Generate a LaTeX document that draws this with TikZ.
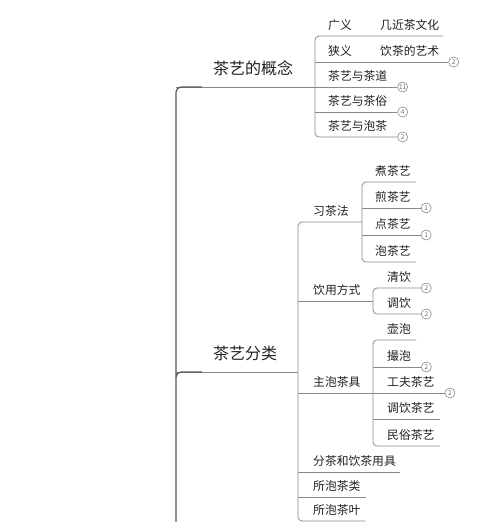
\documentclass[tikz,border=0pt]{standalone}
\usepackage{fontspec}
\setmainfont{Noto Sans CJK SC}
\usetikzlibrary{positioning}
\definecolor{mapink}{RGB}{34,34,34}
\definecolor{mapline}{RGB}{138,138,138}
\definecolor{maptrunk}{RGB}{88,88,88}
\begin{document}
\begin{tikzpicture}[x=1pt,y=-1pt,font=\fontsize{11.8}{14}\selectfont,
 topic/.style={anchor=south west,inner sep=0pt,text depth=12pt,text=mapink,
 font=\fontsize{16}{19}\selectfont},
 leaf/.style={anchor=south west,inner sep=0pt,text depth=6.5pt,text=mapink},
 badge/.style={circle,draw=mapline,line width=.6pt,fill=white,minimum size=10pt,
 inner sep=0pt,anchor=west,text=mapline!80!black,font=\fontsize{6.5}{7}\selectfont},
 ln/.style={draw=mapline,line width=.8pt,rounded corners=4pt},
 trunk/.style={draw=maptrunk,line width=1.2pt,rounded corners=5pt}]
\useasboundingbox[fill=white] (0,0) rectangle (500,522);
\coordinate (kc) at (315,0);
\coordinate (kf) at (298,0);
\coordinate (kx) at (362,0);
\coordinate (ky) at (373,0);
\coordinate (rt) at (176,87);
\coordinate (rm) at (176,372);
\coordinate (rb) at (176,522);

\node[topic] (gn) at (213,87) {茶艺的概念};
\node[topic] (fl) at (213,372) {茶艺分类};

% 茶艺的概念
\node[leaf] (gy) at (328,36) {广义};
\node[leaf,right=28pt of gy] (gyw) {几近茶文化};
\node[leaf] (xy) at (328,62) {狭义};
\node[leaf,right=28pt of xy] (xyw) {饮茶的艺术};
\node[leaf] (cdao) at (328,87) {茶艺与茶道};
\node[leaf] (csu) at (328,112) {茶艺与茶俗};
\node[leaf] (cpao) at (328,137) {茶艺与泡茶};
\node[badge] (b1) at ([xshift=9pt]xyw.south east) {2};
\node[badge] (b2) at ([xshift=10pt]cdao.south east) {11};
\node[badge] (b3) at ([xshift=10pt]csu.south east) {4};
\node[badge] (b4) at ([xshift=10pt]cpao.south east) {2};
\draw[ln] (rt) -- (cdao.south -| kc);
\draw[ln] ([xshift=4pt]gyw.south east) -- (gy.south -| kc) -- (cpao.south -| kc) -- (b4.west);
\draw[ln] (xy.south -| kc) -- (b1.west);
\draw[ln] (cdao.south -| kc) -- (b2.west);
\draw[ln] (csu.south -| kc) -- (b3.west);

% 茶艺分类
\node[leaf] (xc) at (313,222) {习茶法};
\node[leaf] (yf) at (313,301) {饮用方式};
\node[leaf] (zp) at (313,393) {主泡茶具};
\node[leaf] (fc) at (313,472) {分茶和饮茶用具};
\node[leaf] (sl) at (313,497) {所泡茶类};
\node[leaf] (sy) at (313,521) {所泡茶叶};
\draw[ln] (rm) -- (fl.south -| kf);
\draw[ln] (xc.south -| kx) -- (xc.south -| kf) -- (sy.south -| kf) -- ([xshift=5pt]sy.south east);
\draw[ln] (yf.south -| kf) -- (yf.south -| ky);
\draw[ln] (zp.south -| kf) -- (zp.south -| ky);
\draw[ln] (fc.south -| kf) -- ([xshift=4pt]fc.south east);
\draw[ln] (sl.south -| kf) -- ([xshift=5pt]sl.south east);

\node[leaf] (zc) at (375,182) {煮茶艺};
\node[leaf] (jc) at (375,208) {煎茶艺};
\node[leaf] (dc) at (375,235) {点茶艺};
\node[leaf] (pc) at (375,262) {泡茶艺};
\node[badge] (b5) at ([xshift=10pt]jc.south east) {1};
\node[badge] (b6) at ([xshift=10pt]dc.south east) {1};
\draw[ln] ([xshift=5pt]zc.south east) -- (zc.south -| kx) -- (pc.south -| kx) -- ([xshift=5pt]pc.south east);
\draw[ln] (jc.south -| kx) -- (b5.west);
\draw[ln] (dc.south -| kx) -- (b6.west);

\node[leaf] (qy) at (387,288) {清饮};
\node[leaf] (ty) at (387,314) {调饮};
\node[badge] (b7) at ([xshift=10pt]qy.south east) {2};
\node[badge] (b8) at ([xshift=10pt]ty.south east) {2};
\draw[ln] (b7.west) -- (qy.south -| ky) -- (ty.south -| ky) -- (b8.west);

\node[leaf] (hp) at (387,340) {壶泡};
\node[leaf] (cp) at (387,367) {撮泡};
\node[leaf] (gf) at (387,393) {工夫茶艺};
\node[leaf] (tyc) at (387,419) {调饮茶艺};
\node[leaf] (ms) at (387,446) {民俗茶艺};
\node[badge] (b9) at ([xshift=10pt]cp.south east) {2};
\node[badge] (b10) at ([xshift=10pt]gf.south east) {2};
\draw[ln] ([xshift=5pt]hp.south east) -- (hp.south -| ky) -- (ms.south -| ky) -- ([xshift=5pt]ms.south east);
\draw[ln] (cp.south -| ky) -- (b9.west);
\draw[ln] (gf.south -| ky) -- (b10.west);
\draw[ln] (tyc.south -| ky) -- ([xshift=5pt]tyc.south east);

\draw[trunk] ([xshift=26pt]rt) -- (rt) -- (rb);
\draw[trunk] ([yshift=-5pt]rm) -- (rm) -- ([xshift=26pt]rm);
\end{tikzpicture}
\end{document}
